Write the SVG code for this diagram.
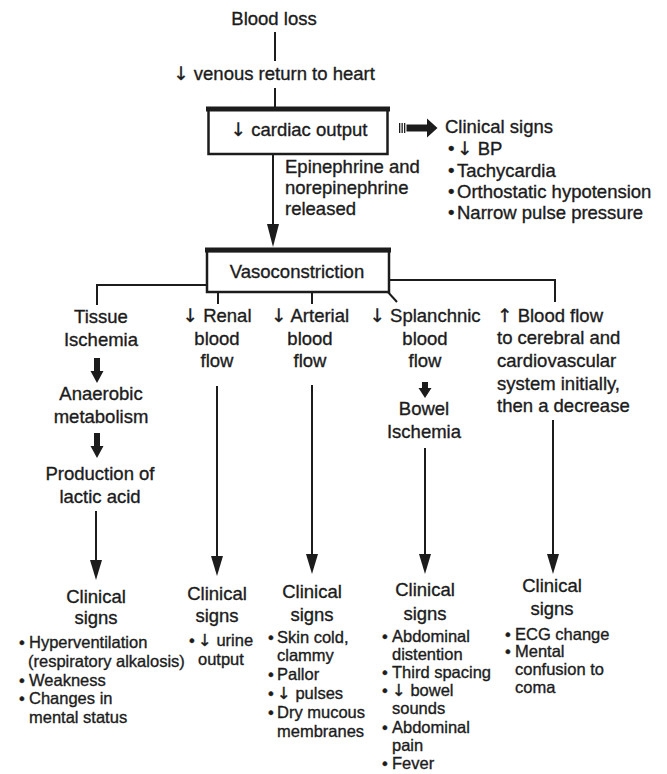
<svg xmlns="http://www.w3.org/2000/svg" width="667" height="774" viewBox="0 0 667 774">
<style>
text{font-family:"Liberation Sans",Arial,"DejaVu Sans",sans-serif;fill:#1c1c1c;stroke:#1c1c1c;stroke-width:0.35}
.h{font-size:18.5px}
.m{text-anchor:middle}
.b{font-size:16.5px}
.ar{font-family:"DejaVu Sans",sans-serif}
.ln{stroke:#1c1c1c;stroke-width:2;fill:none}
.box{fill:#fff;stroke:#1c1c1c;stroke-width:2.5}
.top{stroke:#1c1c1c;stroke-width:5}
</style>
<rect width="667" height="774" fill="#fff"/>

<g id="connectors">
<line class="ln" x1="275" y1="32" x2="275" y2="61"/>
<line class="ln" x1="275" y1="88" x2="275" y2="108"/>
<line class="ln" x1="273" y1="154" x2="273" y2="226"/>
<path d="M267 224 L279 224 L273 247 Z" fill="#1c1c1c"/>
<rect x="399" y="123" width="1.3" height="10" fill="#1c1c1c"/>
<rect x="401.5" y="123" width="1.3" height="10" fill="#1c1c1c"/>
<rect x="404" y="123" width="1.3" height="10" fill="#1c1c1c"/>
<path d="M406.5 124.5 L427 124.5 L427 118.5 L437.5 128 L427 137.5 L427 131.5 L406.5 131.5 Z" fill="#1c1c1c"/>
<polyline class="ln" points="207,285 97,285 97,305"/>
<polyline class="ln" points="389,280 555,280 555,302"/>
<line class="ln" x1="218" y1="292" x2="218" y2="304"/>
<line class="ln" x1="312" y1="292" x2="312" y2="304"/>
<line class="ln" x1="387" y1="291" x2="397" y2="302"/>
<path d="M94 358 L100 358 L100 371 L103.5 371 L97 383 L90.5 371 L94 371 Z" fill="#1c1c1c"/>
<path d="M94 433 L100 433 L100 446 L103.5 446 L97 458 L90.5 446 L94 446 Z" fill="#1c1c1c"/>
<path d="M422 382 L428 382 L428 388 L431.5 388 L425 398 L418.5 388 L422 388 Z" fill="#1c1c1c"/>
<line class="ln" x1="96" y1="511" x2="96" y2="562"/>
<path d="M90 560 L102 560 L96 580 Z" fill="#1c1c1c"/>
<line class="ln" x1="217" y1="386" x2="217" y2="558"/>
<path d="M211 556 L223 556 L217 576 Z" fill="#1c1c1c"/>
<line class="ln" x1="312" y1="385" x2="312" y2="556"/>
<path d="M306 554 L318 554 L312 574 Z" fill="#1c1c1c"/>
<line class="ln" x1="425" y1="448" x2="425" y2="556"/>
<path d="M419 554 L431 554 L425 574 Z" fill="#1c1c1c"/>
<line class="ln" x1="553" y1="420" x2="553" y2="556"/>
<path d="M547 554 L559 554 L553 574 Z" fill="#1c1c1c"/>
</g>

<g id="blood-loss"><text class="h m" x="274" y="25">Blood loss</text></g>
<g id="venous-return"><text class="h m" x="274" y="80"><tspan class="ar">↓</tspan> venous return to heart</text></g>
<g id="cardiac-output">
<rect class="box" x="208.5" y="109" width="179" height="45"/>
<line class="top" x1="206" y1="109" x2="390" y2="109"/>
<text class="h m" x="299" y="136"><tspan class="ar">↓</tspan> cardiac output</text>
</g>
<g id="clinical-signs-top">
<text class="h" x="445" y="133">Clinical signs</text>
<text class="h"><tspan x="448" y="155">•</tspan><tspan x="457" class="ar">↓</tspan> BP</text>
<text class="h"><tspan x="448" y="177">•</tspan><tspan x="457">Tachycardia</tspan></text>
<text class="h"><tspan x="448" y="198">•</tspan><tspan x="457">Orthostatic hypotension</tspan></text>
<text class="h"><tspan x="448" y="219">•</tspan><tspan x="457">Narrow pulse pressure</tspan></text>
</g>
<g id="epinephrine">
<text class="h" x="285" y="173">Epinephrine and</text>
<text class="h" x="285" y="194">norepinephrine</text>
<text class="h" x="285" y="215">released</text>
</g>
<g id="vasoconstriction">
<rect class="box" x="207" y="251" width="182" height="41"/>
<line class="top" x1="205" y1="250" x2="391" y2="250"/>
<text class="h m" x="297" y="278">Vasoconstriction</text>
</g>

<g id="tissue-ischemia"><text class="h m" x="101" y="323">Tissue</text><text class="h m" x="101" y="346">Ischemia</text></g>
<g id="anaerobic"><text class="h m" x="101" y="400">Anaerobic</text><text class="h m" x="101" y="423">metabolism</text></g>
<g id="lactic-acid"><text class="h m" x="100" y="480">Production of</text><text class="h m" x="100" y="503">lactic acid</text></g>

<g id="renal"><text class="h m" x="217" y="322"><tspan class="ar">↓</tspan> Renal</text><text class="h m" x="217" y="345">blood</text><text class="h m" x="217" y="367">flow</text></g>
<g id="arterial"><text class="h m" x="310" y="322"><tspan class="ar">↓</tspan> Arterial</text><text class="h m" x="310" y="345">blood</text><text class="h m" x="310" y="367">flow</text></g>
<g id="splanchnic"><text class="h m" x="425" y="322"><tspan class="ar">↓</tspan> Splanchnic</text><text class="h m" x="425" y="345">blood</text><text class="h m" x="425" y="367">flow</text></g>
<g id="bowel-ischemia"><text class="h m" x="424" y="415">Bowel</text><text class="h m" x="424" y="438">Ischemia</text></g>
<g id="blood-flow-up">
<text class="h" x="497" y="322"><tspan class="ar">↑</tspan> Blood flow</text>
<text class="h" x="497" y="344">to cerebral and</text>
<text class="h" x="497" y="367">cardiovascular</text>
<text class="h" x="497" y="390">system initially,</text>
<text class="h" x="497" y="412">then a decrease</text>
</g>

<g id="signs-tissue">
<text class="h m" x="96" y="603">Clinical</text>
<text class="h m" x="96" y="624">signs</text>
<text class="b"><tspan x="19" y="648">•</tspan><tspan x="29">Hyperventilation</tspan></text>
<text class="b" x="28" y="667">(respiratory alkalosis)</text>
<text class="b"><tspan x="19" y="686">•</tspan><tspan x="29">Weakness</tspan></text>
<text class="b"><tspan x="19" y="704">•</tspan><tspan x="29">Changes in</tspan></text>
<text class="b" x="29" y="723">mental status</text>
</g>
<g id="signs-renal">
<text class="h m" x="217" y="600">Clinical</text>
<text class="h m" x="217" y="622">signs</text>
<text class="b"><tspan x="189" y="646">•</tspan><tspan x="198" class="ar">↓</tspan> urine</text>
<text class="b" x="198" y="665">output</text>
</g>
<g id="signs-arterial">
<text class="h m" x="312" y="598">Clinical</text>
<text class="h m" x="312" y="621">signs</text>
<text class="b"><tspan x="268" y="643">•</tspan><tspan x="277">Skin cold,</tspan></text>
<text class="b" x="277" y="661">clammy</text>
<text class="b"><tspan x="268" y="680">•</tspan><tspan x="277">Pallor</tspan></text>
<text class="b"><tspan x="268" y="699">•</tspan><tspan x="277" class="ar">↓</tspan> pulses</text>
<text class="b"><tspan x="268" y="718">•</tspan><tspan x="277">Dry mucous</tspan></text>
<text class="b" x="277" y="737">membranes</text>
</g>
<g id="signs-splanchnic">
<text class="h m" x="425" y="596">Clinical</text>
<text class="h m" x="425" y="620">signs</text>
<text class="b"><tspan x="382" y="642">•</tspan><tspan x="392">Abdominal</tspan></text>
<text class="b" x="392" y="660">distention</text>
<text class="b"><tspan x="382" y="678">•</tspan><tspan x="392">Third spacing</tspan></text>
<text class="b"><tspan x="382" y="696">•</tspan><tspan x="392" class="ar">↓</tspan> bowel</text>
<text class="b" x="392" y="714">sounds</text>
<text class="b"><tspan x="382" y="733">•</tspan><tspan x="392">Abdominal</tspan></text>
<text class="b" x="392" y="751">pain</text>
<text class="b"><tspan x="382" y="769">•</tspan><tspan x="392">Fever</tspan></text>
</g>
<g id="signs-cerebral">
<text class="h m" x="552" y="592">Clinical</text>
<text class="h m" x="552" y="615">signs</text>
<text class="b"><tspan x="505" y="640">•</tspan><tspan x="515">ECG change</tspan></text>
<text class="b"><tspan x="505" y="657">•</tspan><tspan x="515">Mental</tspan></text>
<text class="b" x="515" y="675">confusion to</text>
<text class="b" x="515" y="693">coma</text>
</g>
</svg>
